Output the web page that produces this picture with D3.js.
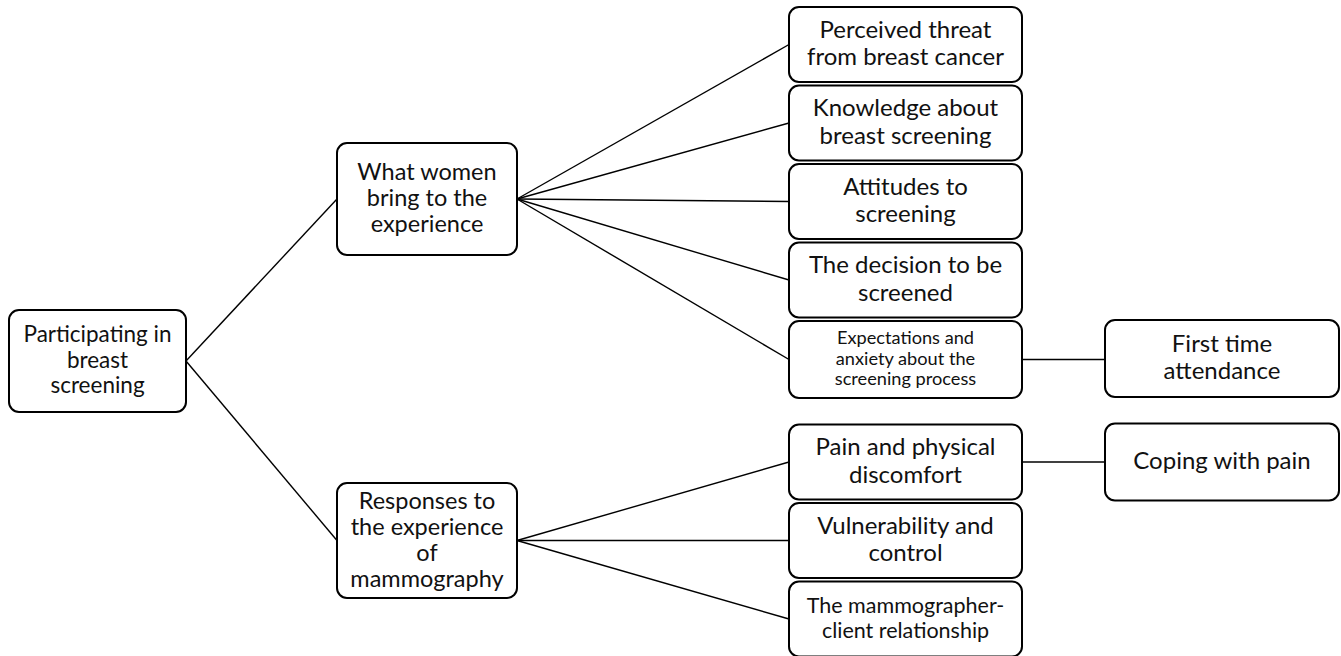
<!DOCTYPE html>
<html>
<head>
<meta charset="utf-8">
<script src="https://cdn.jsdelivr.net/npm/d3@7"></script>
<style>
  body { margin: 0; background: #fff; }
  svg { display: block; }
  .box { fill: #fff; stroke: #000; stroke-width: 2; }
  .link { stroke: #000; stroke-width: 1.4; fill: none; }
  .label { font-family: Lato, "Open Sans", sans-serif; fill: #111; }
</style>
</head>
<body>
<div id="chart"></div>
<script>
const width = 1341;
const height = 656;

// node labels, one string per line as in the figure
const rootLabel = ["Participating in", "breast", "screening"];
const themeLabels = [
    ["What women", "bring to the", "experience"],
    ["Responses to", "the experience", "of", "mammography"]
];
const subLabels = [
    ["Perceived threat", "from breast cancer"],
    ["Knowledge about", "breast screening"],
    ["Attitudes to", "screening"],
    ["The decision to be", "screened"],
    ["Expectations and", "anxiety about the", "screening process"],
    ["Pain and physical", "discomfort"],
    ["Vulnerability and", "control"],
    ["The mammographer-", "client relationship"]
];
const subTheme = [0, 0, 0, 0, 0, 1, 1, 1];
const leafLabels = [
    ["First time", "attendance"],
    ["Coping with pain"]
];
const leafParent = [4, 5];

// layout
const colX = [9, 337, 789, 1105];
const colW = [177, 180, 233, 234];
const rowStep = 78.5, rowTop = 7, rowH = 75, groupGap = 25;
const rowY = i => rowTop + i * rowStep + (subTheme[i] === 1 ? groupGap : 0);

const svg = d3.select("#chart").append("svg")
    .attr("width", width)
    .attr("height", height);

const nodes = [];
const root = { label: rootLabel, x: colX[0], w: colW[0], y: 310, h: 102, size: 22.5, lh: 25.5 };
nodes.push(root);

const themes = themeLabels.map((l, i) => ({
    label: l, x: colX[1], w: colW[1],
    y: i === 0 ? 143 : 483, h: i === 0 ? 112 : 115, size: 23.5, lh: 26
}));
nodes.push(...themes);

const subs = subLabels.map((l, i) => ({
    label: l, x: colX[2], w: colW[2], y: rowY(i), h: i === 4 ? 77 : rowH,
    size: i === 4 ? 18.2 : (i === 7 ? 21.5 : 24),
    lh: i === 4 ? 20.5 : (i === 7 ? 25 : 27.5)
}));
nodes.push(...subs);

const leaves = leafLabels.map((l, i) => {
    const p = subs[leafParent[i]];
    return { label: l, x: colX[3], w: colW[3], y: p.y - 1, h: 77, size: 24, lh: 27.5, parent: p };
});
nodes.push(...leaves);

const midY = d => d.y + d.h / 2;

// links
const links = [];
themes.forEach(t => links.push({ x1: root.x + root.w, y1: midY(root), x2: t.x, y2: midY(t) }));
subs.forEach((s, i) => {
    const t = themes[subTheme[i]];
    links.push({ x1: t.x + t.w, y1: midY(t), x2: s.x, y2: midY(s) });
});
leaves.forEach(l => links.push({
    x1: l.parent.x + l.parent.w, y1: midY(l.parent), x2: l.x, y2: midY(l.parent)
}));

svg.append("g")
    .selectAll("line")
    .data(links)
    .join("line")
    .attr("class", "link")
    .attr("x1", d => d.x1).attr("y1", d => d.y1)
    .attr("x2", d => d.x2).attr("y2", d => d.y2);

const node = svg.append("g")
    .selectAll("g")
    .data(nodes)
    .join("g")
    .attr("transform", d => `translate(${d.x},${d.y})`);

node.append("rect")
    .attr("class", "box")
    .attr("width", d => d.w)
    .attr("height", d => d.h)
    .attr("rx", 10);

node.append("text")
    .attr("class", "label")
    .attr("text-anchor", "middle")
    .style("font-size", d => d.size + "px")
    .each(function(d) {
        const t = d3.select(this);
        const y0 = d.h / 2 - (d.label.length - 1) * d.lh / 2 + d.size * 0.3;
        d.label.forEach((line, i) => {
            t.append("tspan")
                .attr("x", d.w / 2)
                .attr("y", y0 + i * d.lh)
                .text(line);
        });
    });
</script>
</body>
</html>
